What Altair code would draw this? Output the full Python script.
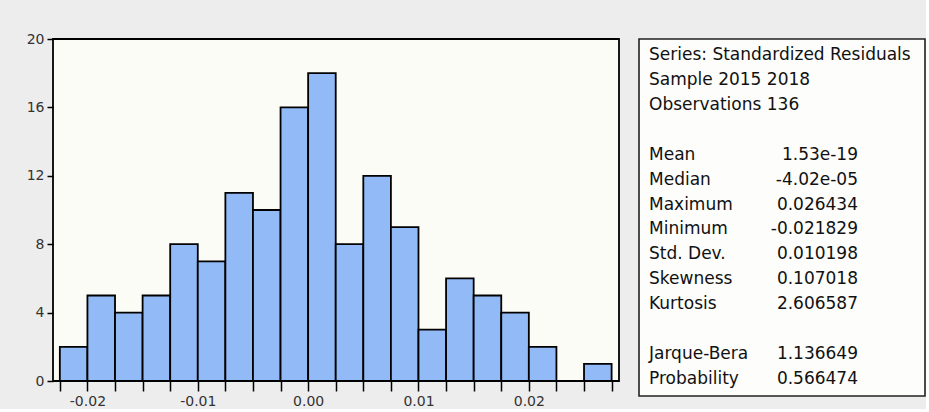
import altair as alt
import pandas as pd

# ---- histogram data (bin edges and counts) ----
bin_start = [-0.0225, -0.0200, -0.0175, -0.0150, -0.0125, -0.0100, -0.0075, -0.0050,
             -0.0025, 0.0000, 0.0025, 0.0050, 0.0075, 0.0100, 0.0125, 0.0150,
             0.0175, 0.0200, 0.0225, 0.0250]
bin_end = [-0.0200, -0.0175, -0.0150, -0.0125, -0.0100, -0.0075, -0.0050, -0.0025,
           0.0000, 0.0025, 0.0050, 0.0075, 0.0100, 0.0125, 0.0150, 0.0175,
           0.0200, 0.0225, 0.0250, 0.0275]
counts = [2, 5, 4, 5, 8, 7, 11, 10, 16, 18, 8, 12, 9, 3, 6, 5, 4, 2, 0, 1]

x_ticks = [-0.0225, -0.0200, -0.0175, -0.0150, -0.0125, -0.0100, -0.0075, -0.0050,
           -0.0025, 0.0000, 0.0025, 0.0050, 0.0075, 0.0100, 0.0125, 0.0150,
           0.0175, 0.0200, 0.0225, 0.0250, 0.0275]
y_ticks = [0, 4, 8, 12, 16, 20]

# ---- statistics box ----
stat_rows = list(range(14))
stat_labels = ["Series: Standardized Residuals", "Sample 2015 2018", "Observations 136", "",
               "Mean", "Median", "Maximum", "Minimum", "Std. Dev.", "Skewness", "Kurtosis", "",
               "Jarque-Bera", "Probability"]
stat_values = ["", "", "", "",
               "1.53e-19", "-4.02e-05", "0.026434", "-0.021829", "0.010198", "0.107018", "2.606587", "",
               "1.136649", "0.566474"]

FONT = "DejaVu Sans"

hist_df = pd.DataFrame({"start": bin_start, "end": bin_end, "count": counts})

label_expr = ("abs(datum.value*100 - round(datum.value*100)) < 1e-6 ? "
              "replace(format(datum.value, '.2f'), '\u2212', '-') : ''")

bars = alt.Chart(hist_df).transform_filter("datum.count > 0").mark_bar(
    fill="#91BAF6", stroke="#000000", strokeWidth=1.8
).encode(
    x=alt.X("start:Q",
            scale=alt.Scale(domain=[-0.02312, 0.02817], nice=False, zero=False),
            axis=alt.Axis(values=x_ticks, labelExpr=label_expr, title=None, grid=False,
                          domain=False, tickSize=10, tickWidth=1.5, tickColor="#000000",
                          labelPadding=3, labelFlush=False, labelOverlap=False)),
    x2="end:Q",
    y=alt.Y("count:Q",
            scale=alt.Scale(domain=[0, 20], nice=False),
            axis=alt.Axis(values=y_ticks, title=None, grid=False, domain=False,
                          tickSize=6, tickWidth=1.5, tickColor="#000000", labelPadding=3,
                          labelFlush=False)),
    y2=alt.datum(0),
).properties(
    width=566, height=342,
    view=alt.ViewBackground(fill="#FCFCF6", stroke="#000000", strokeWidth=1.8)
)

stats_df = pd.DataFrame({"row": stat_rows, "label": stat_labels, "value": stat_values})
ybase = alt.Y("row:Q", scale=alt.Scale(domain=[-0.642, 13.68], reverse=True, nice=False, zero=False),
              axis=None)

stat_lab = alt.Chart(stats_df).mark_text(
    align="left", baseline="middle", font=FONT, fontSize=17, color="#111111"
).encode(x=alt.value(10), y=ybase, text="label:N")

stat_val = alt.Chart(stats_df).mark_text(
    align="right", baseline="middle", font=FONT, fontSize=17, color="#111111"
).encode(x=alt.value(219), y=ybase, text="value:N")

stats = alt.layer(stat_lab, stat_val).properties(
    width=286, height=357,
    title=alt.TitleParams(text=" ", fontSize=1, offset=7),
    view=alt.ViewBackground(fill="#FDFDFB", stroke="#222222", strokeWidth=1.6)
)

chart = alt.hconcat(bars, stats, spacing=18).properties(
    padding={"left": 25, "top": 30, "right": 0, "bottom": 0},
    background="#EDEDED"
).configure_axis(
    labelFont=FONT, labelFontSize=14, labelColor="#333333"
)

chart.save("out.html", embed_options={"renderer": "svg", "actions": False})
